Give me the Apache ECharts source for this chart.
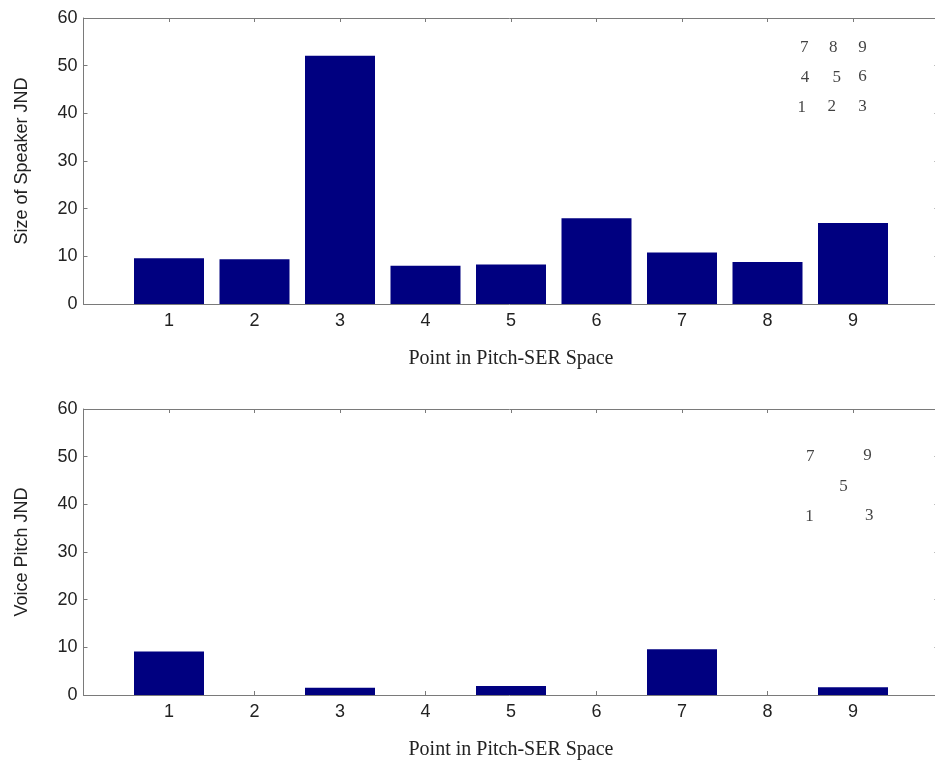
<!DOCTYPE html>
<html>
<head>
<meta charset="utf-8">
<script src="https://cdn.jsdelivr.net/npm/echarts@6/dist/echarts.min.js"></script>
<style>html,body{margin:0;padding:0;background:#fff;overflow:hidden}#c{width:935px;height:762px}</style>
</head>
<body>
<div id="c"></div>
<script>
var points = [1, 2, 3, 4, 5, 6, 7, 8, 9];
var speakerJND = [9.6, 9.4, 52.1, 8.0, 8.3, 18.0, 10.8, 8.8, 17.0];
var pitchJND = [9.1, 0, 1.5, 0, 1.9, 0, 9.6, 0, 1.6];
var yTicks = [0, 10, 20, 30, 40, 50, 60];

var topNoteText = ['7', '8', '9', '4', '5', '6', '1', '2', '3'];
var topNoteX = [8.43, 8.77, 9.11, 8.44, 8.81, 9.11, 8.40, 8.75, 9.11];
var topNoteY = [53.7, 53.7, 53.7, 47.6, 47.6, 47.8, 41.2, 41.4, 41.4];

var botNoteText = ['7', '9', '5', '1', '3'];
var botNoteX = [8.50, 9.17, 8.89, 8.49, 9.19];
var botNoteY = [50.1, 50.3, 43.8, 37.5, 37.7];

var axisGrey = '#7a7a7a';
var labelColor = '#222';

function xAxes(gi) {
  return [{
    type: 'value', gridIndex: gi, position: 'bottom', min: 0, max: 10, interval: 1,
    axisLine: {show: true, onZero: false, lineStyle: {color: axisGrey}},
    axisTick: {show: true, inside: true, length: 4, lineStyle: {color: axisGrey}},
    splitLine: {show: false},
    axisLabel: {color: labelColor, fontFamily: 'Liberation Sans, Arial', fontSize: 18, margin: 8,
      formatter: function (v) { return (v >= 1 && v <= 9) ? String(v) : ''; }},
    name: 'Point in Pitch-SER Space', nameLocation: 'middle', nameGap: 45,
    nameTextStyle: {color: labelColor, fontFamily: 'Liberation Serif, Times New Roman', fontSize: 20}
  }, {
    type: 'value', gridIndex: gi, position: 'top', min: 0, max: 10, interval: 1,
    axisLine: {show: true, onZero: false, lineStyle: {color: axisGrey}},
    axisTick: {show: true, inside: true, length: 4, lineStyle: {color: axisGrey}},
    splitLine: {show: false}, axisLabel: {show: false}
  }];
}
function yAxes(gi, name) {
  return [{
    type: 'value', gridIndex: gi, position: 'left', min: yTicks[0], max: yTicks[yTicks.length - 1], interval: 10,
    axisLine: {show: true, onZero: false, lineStyle: {color: axisGrey}},
    axisTick: {show: true, inside: true, length: 4, lineStyle: {color: axisGrey}},
    splitLine: {show: false},
    axisLabel: {color: labelColor, fontFamily: 'Liberation Sans, Arial', fontSize: 18, margin: 6},
    name: name, nameLocation: 'middle', nameGap: 52,
    nameTextStyle: {color: labelColor, fontFamily: 'Liberation Sans, Arial', fontSize: 18}
  }, {
    type: 'value', gridIndex: gi, position: 'right', min: yTicks[0], max: yTicks[yTicks.length - 1], interval: 10,
    axisLine: {show: true, onZero: false, lineStyle: {color: axisGrey}},
    axisTick: {show: true, inside: true, length: 4, lineStyle: {color: axisGrey}},
    splitLine: {show: false}, axisLabel: {show: false}
  }];
}
function barData(vals) { return points.map(function (p, i) { return [p, vals[i]]; }); }
function noteData(t, xs, ys) { return t.map(function (s, i) { return {value: [xs[i], ys[i]], name: s}; }); }
function noteSeries(xi, yi, t, xs, ys) {
  return {
    type: 'scatter', xAxisIndex: xi, yAxisIndex: yi, symbolSize: 1,
    itemStyle: {color: 'rgba(0,0,0,0)'},
    data: noteData(t, xs, ys), silent: true, z: 5,
    label: {show: true, position: 'inside', formatter: '{b}', color: '#111',
      fontFamily: 'Liberation Serif, Times New Roman', fontSize: 17}
  };
}

var chart = echarts.init(document.getElementById('c'), null, {renderer: 'canvas'});
chart.setOption({
  animation: false,
  backgroundColor: '#fff',
  grid: [
    {left: 83.5, width: 855, top: 18, height: 286, containLabel: false, outerBoundsMode: 'none'},
    {left: 83.5, width: 855, top: 409, height: 286, containLabel: false, outerBoundsMode: 'none'}
  ],
  xAxis: xAxes(0).concat(xAxes(1)),
  yAxis: yAxes(0, 'Size of Speaker JND').concat(yAxes(1, 'Voice Pitch JND')),
  series: [
    {type: 'bar', xAxisIndex: 0, yAxisIndex: 0, data: barData(speakerJND), barWidth: 70,
      itemStyle: {color: '#000080'}},
    {type: 'bar', xAxisIndex: 2, yAxisIndex: 2, data: barData(pitchJND), barWidth: 70,
      itemStyle: {color: '#000080'}},
    noteSeries(0, 0, topNoteText, topNoteX, topNoteY),
    noteSeries(2, 2, botNoteText, botNoteX, botNoteY)
  ]
});
</script>
</body>
</html>
